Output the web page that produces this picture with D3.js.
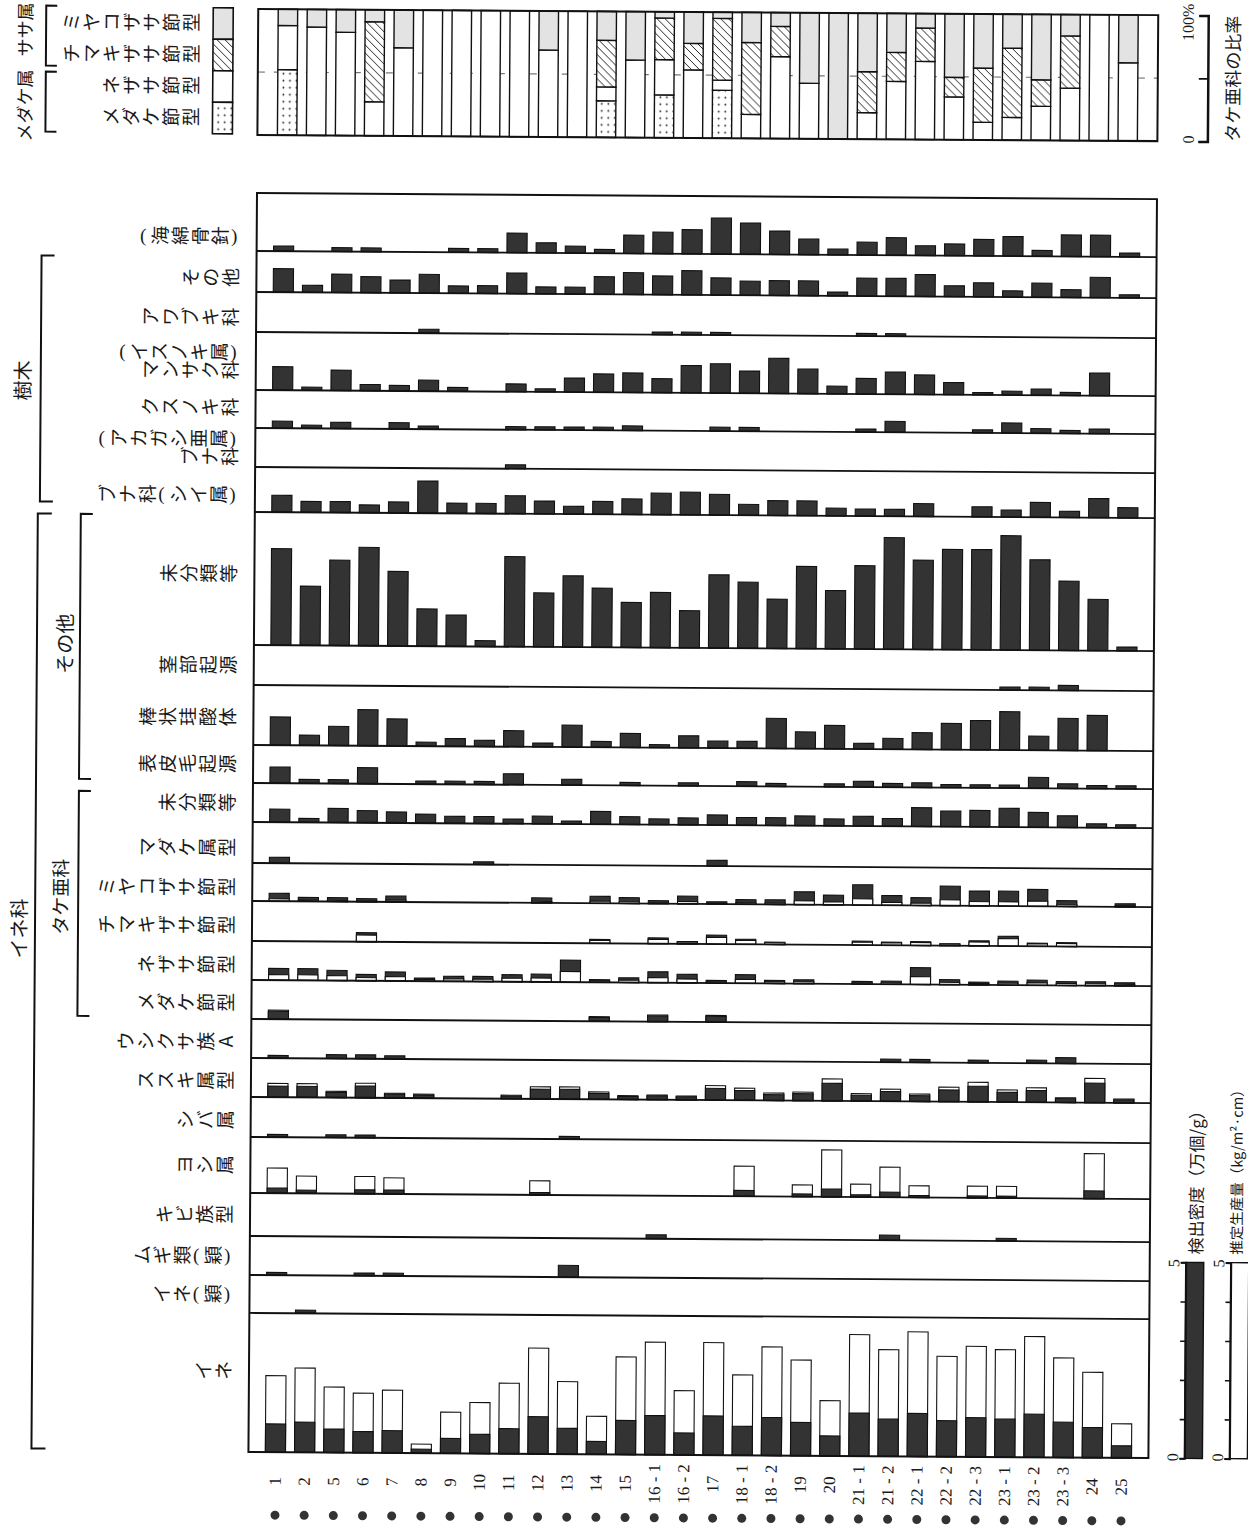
<!DOCTYPE html>
<html>
<head>
<meta charset="utf-8">
<script src="https://cdn.jsdelivr.net/npm/d3@7"></script>
<style>
body { margin: 0; background: #fff; }
svg { display: block; }
</style>
</head>
<body>
<svg width="1248" height="1529"></svg>
<script>
var svg = d3.select("svg");
var JP = "'Noto Sans CJK JP', 'Noto Sans', sans-serif";
var SERIF = "'Liberation Serif', 'DejaVu Serif', serif";

// samples (x categories)
var samples = ["1","2","5","6","7","8","9","10","11","12","13","14","15","16-1","16-2","17",
  "18-1","18-2","19","20","21-1","21-2","22-1","22-2","22-3","23-1","23-2","23-3","24","25"];

// detection density (万個/g), one array per taxon
var kaimen     = [0.13,0,0.1,0.1,0,0,0.1,0.1,0.5,0.26,0.18,0.1,0.47,0.55,0.62,0.92,0.8,0.6,0.4,0.15,0.33,0.45,0.25,0.3,0.42,0.5,0.15,0.55,0.55,0.1];
var jumokuEtc  = [0.6,0.18,0.47,0.41,0.33,0.48,0.19,0.2,0.53,0.18,0.18,0.45,0.56,0.48,0.62,0.44,0.36,0.38,0.38,0.1,0.46,0.46,0.56,0.28,0.36,0.16,0.36,0.2,0.52,0.08];
var awabuki    = [0,0,0,0,0,0.1,0,0,0,0,0,0,0,0.07,0.07,0.07,0,0,0,0,0.07,0.07,0,0,0,0,0,0,0,0];
var isunoki    = [0.6,0.08,0.52,0.16,0.14,0.28,0.1,0,0.2,0.08,0.36,0.47,0.5,0.36,0.7,0.75,0.57,0.9,0.63,0.2,0.4,0.57,0.5,0.31,0.06,0.1,0.16,0.08,0.58,0];
var kusunoki   = [0.18,0.08,0.16,0,0.16,0.08,0,0,0.08,0.08,0.08,0.08,0.12,0,0,0.1,0.1,0,0,0,0.08,0.28,0,0,0.08,0.26,0.12,0.08,0.12,0];
var akagashi   = [0,0,0,0,0,0,0,0,0.1,0,0,0,0,0,0,0,0,0,0,0,0,0,0,0,0,0,0,0,0,0];
var shii       = [0.43,0.28,0.28,0.2,0.28,0.82,0.26,0.26,0.46,0.33,0.2,0.33,0.4,0.55,0.58,0.53,0.28,0.38,0.38,0.2,0.18,0.18,0.33,0,0.26,0.18,0.38,0.16,0.49,0.26];
var etcUncl    = [2.46,1.51,2.18,2.51,1.9,0.95,0.8,0.15,2.3,1.38,1.82,1.51,1.15,1.41,0.95,1.87,1.69,1.26,2.1,1.49,2.13,2.85,2.28,2.56,2.56,2.92,2.31,1.77,1.31,0.1];
var keibu      = [0,0,0,0,0,0,0,0,0,0,0,0,0,0,0,0,0,0,0,0,0,0,0,0,0,0.08,0.08,0.13,0,0];
var bojo       = [0.72,0.26,0.49,0.92,0.69,0.1,0.2,0.16,0.41,0.1,0.56,0.15,0.36,0.08,0.31,0.18,0.18,0.77,0.43,0.6,0.15,0.28,0.43,0.67,0.75,0.98,0.36,0.82,0.9,0];
var hyohi      = [0.41,0.1,0.1,0.41,0,0.08,0.08,0.08,0.28,0,0.15,0,0.08,0,0.08,0,0.12,0.08,0,0.08,0.15,0.1,0.12,0.08,0.08,0.08,0.28,0.12,0.08,0.08];
var takeUncl   = [0.33,0.1,0.36,0.31,0.28,0.23,0.18,0.18,0.12,0.2,0.08,0.33,0.2,0.15,0.18,0.26,0.2,0.2,0.25,0.18,0.25,0.2,0.48,0.4,0.42,0.48,0.38,0.3,0.1,0.08];
var madake     = [0.15,0,0,0,0,0,0,0.07,0,0,0,0,0,0,0,0.15,0,0,0,0,0,0,0,0,0,0,0,0,0,0];
var miyako     = [0.2,0.1,0.1,0.08,0.15,0,0,0,0,0.13,0,0.18,0.15,0.08,0.2,0.06,0.12,0.12,0.33,0.25,0.52,0.25,0.2,0.5,0.38,0.38,0.43,0.15,0,0.08];
var chimaki    = [0,0,0,0.23,0,0,0,0,0,0,0,0.1,0,0.15,0.06,0.23,0.13,0.06,0,0,0.1,0.08,0.1,0.05,0.13,0.25,0.08,0.1,0,0];
var nezasa     = [0.3,0.3,0.26,0.16,0.23,0.08,0.13,0.13,0.18,0.2,0.56,0.07,0.12,0.28,0.22,0.07,0.22,0.08,0.1,0,0.07,0.08,0.43,0.13,0.07,0.1,0.13,0.1,0.1,0.08];
var medake     = [0.2,0,0,0,0,0,0,0,0,0,0,0.1,0,0.15,0,0.15,0,0,0,0,0,0,0,0,0,0,0,0,0,0];
var ushikusa   = [0.07,0,0.1,0.1,0.08,0,0,0,0,0,0,0,0,0,0,0,0,0,0,0,0,0.08,0.08,0,0.07,0,0.08,0.15,0,0];
var susuki     = [0.28,0.28,0.13,0.3,0.1,0.08,0,0,0.07,0.25,0.25,0.15,0.08,0.1,0.08,0.3,0.25,0.15,0.18,0.45,0.15,0.25,0.15,0.3,0.4,0.25,0.3,0.1,0.5,0.08];
var shiba      = [0.07,0,0.07,0.07,0,0,0,0,0,0,0.07,0,0,0,0,0,0,0,0,0,0,0,0,0,0,0,0,0,0,0];
var yoshi      = [0.13,0.08,0,0.1,0.1,0,0,0,0,0.06,0,0,0,0,0,0,0.15,0,0.07,0.2,0.06,0.13,0.05,0,0.05,0.05,0,0,0.2,0];
var kibi       = [0,0,0,0,0,0,0,0,0,0,0,0,0,0.1,0,0,0,0,0,0,0,0.13,0,0,0,0.07,0,0,0,0];
var mugiEi     = [0.07,0,0,0.07,0.07,0,0,0,0,0,0.3,0,0,0,0,0,0,0,0,0,0,0,0,0,0,0,0,0,0,0];
var ineEi      = [0,0.08,0,0,0,0,0,0,0,0,0,0,0,0,0,0,0,0,0,0,0,0,0,0,0,0,0,0,0,0];
var ine        = [0.72,0.77,0.6,0.54,0.57,0.1,0.38,0.49,0.64,0.95,0.66,0.33,0.87,1.0,0.56,1.0,0.74,0.97,0.85,0.51,1.1,0.95,1.1,0.92,1.0,0.97,1.1,0.9,0.77,0.31];

// estimated production (kg/m2・cm)
var miyakoProd  = [0.06,0.03,0.03,0.025,0.045,0,0,0,0,0.04,0,0.055,0.045,0.025,0.06,0.02,0.035,0.035,0.1,0.075,0.16,0.075,0.06,0.15,0.11,0.11,0.13,0.045,0,0.025];
var chimakiProd = [0,0,0,0.17,0,0,0,0,0,0,0,0.075,0,0.11,0.045,0.17,0.1,0.045,0,0,0.075,0.06,0.075,0.04,0.1,0.19,0.06,0.075,0,0];
var nezasaProd  = [0.14,0.14,0.125,0.08,0.11,0.04,0.06,0.06,0.09,0.1,0.27,0.035,0.06,0.13,0.1,0.035,0.1,0.04,0.05,0,0.035,0.04,0.2,0.06,0.035,0.05,0.06,0.05,0.05,0.04];
var medakeProd  = [0.23,0,0,0,0,0,0,0,0,0,0,0.12,0,0.17,0,0.17,0,0,0,0,0,0,0,0,0,0,0,0,0,0];
var susukiProd  = [0.35,0.35,0.16,0.37,0.12,0.1,0,0,0.09,0.31,0.31,0.19,0.1,0.12,0.1,0.37,0.31,0.19,0.22,0.56,0.19,0.31,0.19,0.37,0.5,0.31,0.37,0.12,0.62,0.1];
var yoshiProd   = [0.64,0.44,0,0.44,0.41,0,0,0,0,0.36,0,0,0,0,0,0,0.77,0,0.3,1.2,0.33,0.77,0.3,0,0.3,0.3,0,0,1.15,0];
var ineProd     = [1.95,2.15,1.67,1.52,1.6,0.23,1.05,1.3,1.8,2.7,1.85,0.97,2.49,2.87,1.64,2.87,2.05,2.77,2.44,1.41,3.1,2.72,3.18,2.56,2.82,2.74,3.08,2.54,2.18,0.87];

// タケ亜科の比率 (%), bottom to top
var ratioMedake  = [52,0,0,0,0,0,0,0,0,0,0,29,0,34,0,38,0,0,0,0,0,0,0,0,0,0,0,0,0,0];
var ratioNezasa  = [35,86,82,27,70,100,100,100,100,69,100,11,61.5,28,54,8,19,65,44,0,21,46,62,34,14,18,27,41.5,100,62];
var ratioChimaki = [0,0,0,63.5,0,0,0,0,0,0,0,37,0,33,21,49,57,24,0,0,32.5,23,26.5,15.5,43,55,21,41.5,0,0];
var ratioMiyako  = [13,14,18,9.5,30,0,0,0,0,31,0,23,38.5,5,25,5,24,11,56,100,46.5,31,11.5,50.5,43,27,52,17,0,38];

// ---------------------------------------------------------------
var defs = svg.append("defs");
var hatch = defs.append("pattern").attr("id", "hatch")
    .attr("patternUnits", "userSpaceOnUse").attr("width", 8).attr("height", 8);
hatch.append("rect").attr("width", 8).attr("height", 8).attr("fill", "#fff");
hatch.append("path").attr("d", "M0,0 L8,8 M-1,7 L1,9 M7,-1 L9,1")
    .attr("stroke", "#222").attr("stroke-width", 1);
var dots = defs.append("pattern").attr("id", "dots")
    .attr("patternUnits", "userSpaceOnUse").attr("width", 6.5).attr("height", 7);
dots.append("rect").attr("width", 6.5).attr("height", 7).attr("fill", "#fff");
dots.append("circle").attr("cx", 3.2).attr("cy", 3.5).attr("r", 0.9).attr("fill", "#222");

// the scan is tilted slightly
var root = svg.append("g").attr("transform", "rotate(0.39,257,193)")
    .attr("font-family", JP).attr("fill", "#1a1a1a");

var xMain = d3.scaleBand().domain(samples).range([257, 1157]).paddingInner(0.31).paddingOuter(0.58);
var xTop = d3.scaleBand().domain(samples).range([257, 1157]).paddingInner(0.33).paddingOuter(0.69);
var h = d3.scaleLinear().domain([0, 5]).range([0, 196]);

// vertical (tategaki) label, drawn turned like the page
function tate(g, str, xr, y, size, adv) {
  var chars = Array.from(str);
  var isParen = function(c) { return /[（）()]/.test(c); };
  var widths = chars.map(function(c) { return isParen(c) ? adv * 0.55 : adv; });
  var x = xr - d3.sum(widths);
  chars.forEach(function(c, i) {
    var cx = x + widths[i] / 2;
    var t = g.append("text").attr("x", cx).attr("y", y)
        .attr("text-anchor", "middle").attr("dominant-baseline", "central")
        .attr("font-size", size);
    if (isParen(c)) {
      t.text(c === "（" || c === "(" ? "(" : ")").attr("font-family", SERIF);
    } else {
      t.text(c).attr("transform", "rotate(-90," + cx + "," + y + ")");
    }
    x += widths[i];
  });
}
function sideText(g, str, x, y, size, anchor, fam) {
  return g.append("text")
      .attr("transform", "translate(" + x + "," + y + ") rotate(-90)")
      .attr("text-anchor", anchor || "middle").attr("dominant-baseline", "central")
      .attr("font-size", size).attr("font-family", fam || JP).text(str);
}
function bracket(g, x, y0, y1, len) {
  g.append("path").attr("d", "M" + (x + len) + "," + y0 + "H" + x + "V" + y1 + "H" + (x + len))
      .attr("fill", "none").attr("stroke", "#111").attr("stroke-width", 2);
}

// ---------------------------------------------------------------
// main panel rows
var rowEdges = [193,251,292,332,390,428,467,512,645,685,745,783,822,863,901,941,980,1019,1058,1097,1137,1193,1236,1275,1313,1452];
var rows = [
  {label: ["（海綿骨針）"], dens: kaimen, dy: 14},
  {label: ["その他"], dens: jumokuEtc, dy: 6},
  {label: ["アワブキ科"], dens: awabuki, dy: 5},
  {label: ["（イスノキ属）", "マンサク科"], dens: isunoki},
  {label: ["クスノキ科"], dens: kusunoki, dy: -2},
  {label: ["（アカガシ亜属）", "ブナ科"], dens: akagashi},
  {label: ["ブナ科（シイ属）"], dens: shii, dy: 5},
  {label: ["未分類等"], dens: etcUncl, dy: -5},
  {label: ["茎部起源"], dens: keibu},
  {label: ["棒状珪酸体"], dens: bojo, dy: 2},
  {label: ["表皮毛起源"], dens: hyohi},
  {label: ["未分類等"], dens: takeUncl},
  {label: ["マダケ属型"], dens: madake, dy: 5},
  {label: ["ミヤコザサ節型"], dens: miyako, prod: miyakoProd, dy: 5},
  {label: ["チマキザサ節型"], dens: chimaki, prod: chimakiProd, dy: 4},
  {label: ["ネザサ節型"], dens: nezasa, prod: nezasaProd, dy: 4},
  {label: ["メダケ節型"], dens: medake, prod: medakeProd, dy: 3},
  {label: ["ウシクサ族A"], dens: ushikusa, dy: 3},
  {label: ["ススキ属型"], dens: susuki, prod: susukiProd, dy: 3},
  {label: ["シバ属"], dens: shiba, dy: 3},
  {label: ["ヨシ属"], dens: yoshi, prod: yoshiProd},
  {label: ["キビ族型"], dens: kibi},
  {label: ["ムギ類（穎）"], dens: mugiEi},
  {label: ["イネ（穎）"], dens: ineEi},
  {label: ["イネ"], dens: ine, prod: ineProd, dy: -12}
];
rows.forEach(function(r, i) { r.top = rowEdges[i]; r.base = rowEdges[i + 1]; });

var gMain = root.append("g");
rows.forEach(function(r) {
  var items = samples.map(function(s, i) {
    var parts = [{v: r.dens[i], fill: "#333"}];
    if (r.prod) parts.push({v: r.prod[i], fill: "#fff"});
    parts = parts.filter(function(p) { return p.v > 0; })
        .sort(function(a, b) { return b.v - a.v; });
    return {s: s, parts: parts};
  });
  gMain.append("g").selectAll("g").data(items).join("g")
    .selectAll("rect").data(function(d) { return d.parts.map(function(p) { return {s: d.s, v: p.v, fill: p.fill}; }); })
    .join("rect")
      .attr("x", function(d) { return xMain(d.s); })
      .attr("width", xMain.bandwidth())
      .attr("y", function(d) { return r.base - h(d.v); })
      .attr("height", function(d) { return h(d.v); })
      .attr("fill", function(d) { return d.fill; })
      .attr("stroke", "#111").attr("stroke-width", 1.1);

  // label
  var cy = (r.top + r.base) / 2 + (r.dy || 0);
  var n = r.label.length;
  r.label.forEach(function(line, k) {
    tate(root, line, 240, cy + (k - (n - 1) / 2) * 18, 19, 20);
  });
});

gMain.selectAll("line.sep").data(rowEdges.slice(1, -1)).join("line")
    .attr("class", "sep")
    .attr("x1", 257).attr("x2", 1157)
    .attr("y1", function(d) { return d; }).attr("y2", function(d) { return d; })
    .attr("stroke", "#111").attr("stroke-width", 1.8);
gMain.append("rect").attr("x", 257).attr("y", 193).attr("width", 900).attr("height", 1259)
    .attr("fill", "none").attr("stroke", "#111").attr("stroke-width", 2);

// group brackets
bracket(root, 42, 257, 503, 13);
sideText(root, "樹木", 23, 382, 20);
bracket(root, 40, 515, 1450, 14);
sideText(root, "イネ科", 23, 930, 20);
bracket(root, 83, 515, 780, 12);
sideText(root, "その他", 67, 645, 20);
bracket(root, 83, 792, 1017, 12);
sideText(root, "タケ亜科", 64, 898, 19);

// sample labels and dots
var gSamp = root.append("g");
gSamp.selectAll("text").data(samples).join("text")
    .attr("transform", function(d) { return "translate(" + (xMain(d) + xMain.bandwidth() / 2) + ",1481) rotate(-90)"; })
    .attr("text-anchor", "middle").attr("dominant-baseline", "central")
    .attr("font-family", SERIF).attr("font-size", 17)
    .text(function(d) { return d.replace("-", " - "); });
gSamp.selectAll("circle").data(samples).join("circle")
    .attr("cx", function(d) { return xMain(d) + xMain.bandwidth() / 2; })
    .attr("cy", 1515).attr("r", 4.5).attr("fill", "#333");

// ---------------------------------------------------------------
// top panel: タケ亜科の比率
var yRatio = d3.scaleLinear().domain([0, 100]).range([135, 9]);
var ratioTable = samples.map(function(s, i) {
  return {s: s, medake: ratioMedake[i], nezasa: ratioNezasa[i], chimaki: ratioChimaki[i], miyako: ratioMiyako[i]};
});
var keys = ["medake", "nezasa", "chimaki", "miyako"];
var fills = {medake: "url(#dots)", nezasa: "#fff", chimaki: "url(#hatch)", miyako: "#e3e3e3"};
var stacked = d3.stack().keys(keys)(ratioTable);

var gTop = root.append("g");
gTop.append("line").attr("x1", 257).attr("x2", 1157)
    .attr("y1", yRatio(50)).attr("y2", yRatio(50))
    .attr("stroke", "#777").attr("stroke-width", 1.2).attr("stroke-dasharray", "7,9");
gTop.selectAll("g.layer").data(stacked).join("g").attr("class", "layer")
    .attr("fill", function(d) { return fills[d.key]; })
  .selectAll("rect").data(function(d) { return d.filter(function(v) { return v[1] > v[0]; }); })
  .join("rect")
    .attr("x", function(d) { return xTop(d.data.s); })
    .attr("width", xTop.bandwidth())
    .attr("y", function(d) { return yRatio(d[1]); })
    .attr("height", function(d) { return yRatio(d[0]) - yRatio(d[1]); })
    .attr("stroke", "#111").attr("stroke-width", 1.4);
gTop.append("rect").attr("x", 257).attr("y", 9).attr("width", 900).attr("height", 126)
    .attr("fill", "none").attr("stroke", "#111").attr("stroke-width", 2);

// ratio axis on the right
var gRA = root.append("g").attr("transform", "translate(1207,0)")
    .call(d3.axisLeft(yRatio).tickValues([0, 50, 100]).tickSize(9).tickFormat(""));
gRA.select(".domain").attr("stroke", "#111").attr("stroke-width", 2.5);
gRA.selectAll(".tick line").attr("stroke", "#111").attr("stroke-width", 1.8);
sideText(root, "100%", 1187, 16, 16, "middle", SERIF);
sideText(root, "0", 1188, 133, 16, "middle", SERIF);
sideText(root, "タケ亜科の比率", 1231, 72, 18);

// top-left legend
var legKeys = ["miyako", "chimaki", "nezasa", "medake"];
var legNames = ["ミヤコザサ節型", "チマキザサ節型", "ネザサ節型", "メダケ節型"];
var yLegBox = d3.scaleBand().domain(legKeys).range([8, 134]);
var gLeg = root.append("g");
gLeg.selectAll("rect").data(legKeys).join("rect")
    .attr("x", 212).attr("width", 20)
    .attr("y", function(d) { return yLegBox(d); }).attr("height", yLegBox.bandwidth())
    .attr("fill", function(d) { return fills[d]; })
    .attr("stroke", "#111").attr("stroke-width", 1.6);
legKeys.forEach(function(k, i) {
  tate(gLeg, legNames[i], 199, yLegBox(k) + yLegBox.bandwidth() / 2 - 1, 19, 20);
});
bracket(gLeg, 45, 7, 67, 11);
bracket(gLeg, 45, 73, 133, 11);
sideText(gLeg, "ササ属", 23, 31, 18);
sideText(gLeg, "メダケ属", 23, 107, 18);

// bottom-right legend scales
var yLegend = d3.scaleLinear().domain([0, 5]).range([1452, 1452 - h(5)]);
function legendScale(x, fill, title, tx, tsize) {
  var g = root.append("g");
  g.append("rect").attr("x", x).attr("y", yLegend(5)).attr("width", 18).attr("height", h(5))
      .attr("fill", fill).attr("stroke", "#111").attr("stroke-width", 1.4);
  var ax = g.append("g").attr("transform", "translate(" + x + ",0)")
      .call(d3.axisLeft(yLegend).tickValues([0, 1, 2, 3, 4, 5]).tickSize(5).tickFormat(""));
  ax.select(".domain").attr("stroke", "#111").attr("stroke-width", 2);
  ax.selectAll(".tick line").attr("stroke", "#111").attr("stroke-width", 1.6);
  sideText(g, "5", x - 12, yLegend(5) + 1, 16, "middle", SERIF);
  sideText(g, "0", x - 12, yLegend(0) - 1, 16, "middle", SERIF);
  sideText(g, title, tx, yLegend(5) - 8, tsize, "start");
}
legendScale(1193, "#333", "検出密度（万個/g）", 1202, 17);
legendScale(1238, "#fff", "推定生産量（kg/m²·cm）", 1242.5, 14.5);
</script>
</body>
</html>
